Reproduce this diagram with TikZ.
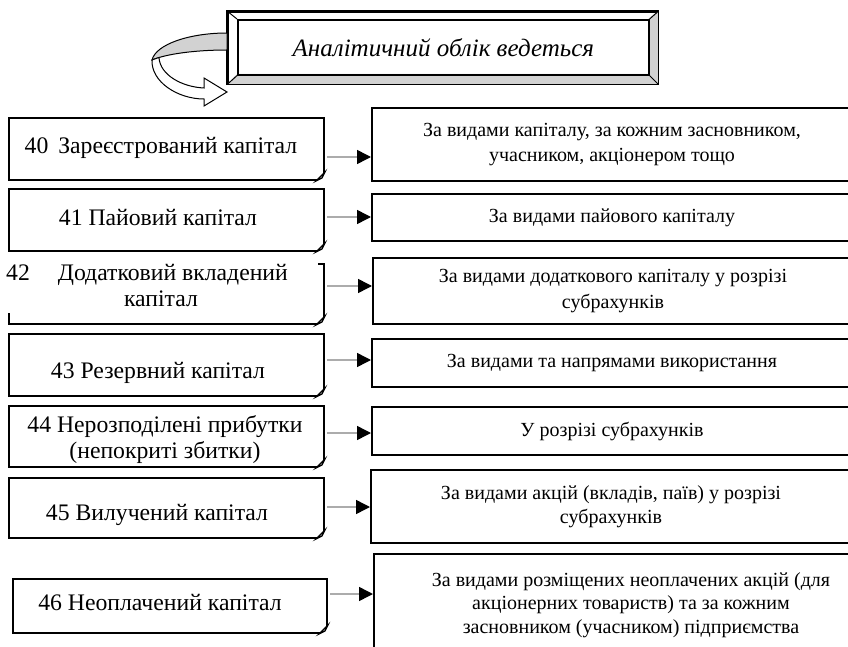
\documentclass[tikz,border=0pt]{standalone}
\usepackage{fontspec}
\setmainfont{Liberation Serif}
\usetikzlibrary{arrows.meta, positioning}

\begin{document}
\begin{tikzpicture}[
    x=1pt, y=-1pt,
    rahunok/.style={
        draw,
        line width=2pt,
        anchor=north west,
        minimum width=315pt,
        inner sep=0pt
    },
    napis/.style={
        font=\fontsize{23.7}{26}\selectfont,
        align=center,
        inner sep=2pt
    },
    oblik/.style={
        draw,
        line width=2pt,
        anchor=north west,
        minimum width=480pt,
        inner sep=3pt,
        align=center,
        font=\fontsize{20}{25.5}\selectfont
    },
    strilka/.style={
        draw=gray!65,
        line width=1.5pt,
        -{Triangle[length=14pt, width=14pt, black]}
    }
]
\useasboundingbox (0,0) rectangle (848,647);
\clip (0,0) rectangle (848,647);

% ---------------- BANNER ----------------
\node[draw, fill=white, line width=1.6pt, anchor=north west, minimum width=430pt, minimum height=72pt] (ramka) at (227,11) {};
\fill[gray!35] (ramka.north east) -- (ramka.south east) -- (ramka.south west) -- (237,74) -- (648,74) -- (648,19) -- cycle;
\node[draw, line width=1.6pt, anchor=north west, minimum width=411pt, minimum height=55pt,
      font=\fontsize{25}{30}\selectfont\itshape] (tema) at (237,19) {Аналітичний облік ведеться};
\draw[line width=1.6pt] (ramka.north west) rectangle (ramka.south east);
\draw[line width=1pt] (ramka.north west) -- (tema.north west)
                      (ramka.north east) -- (tema.north east)
                      (ramka.south west) -- (tema.south west)
                      (ramka.south east) -- (tema.south east);

% curled arrow
\filldraw[fill=gray!35, line width=1pt] (227,33) .. controls (190,33) and (156,44) .. (152,60)
    .. controls (166,54) and (195,50) .. (227,50) -- cycle;
\filldraw[fill=white, line width=1pt] (152,60) .. controls (151,82) and (178,99) .. (204,99)
    -- (204,106) -- (227,92) -- (204,78) -- (204,88)
    .. controls (182,87) and (160,75) .. (159,57.5) -- cycle;

% ---------------- ACCOUNTS ----------------
\node[rahunok, minimum height=62pt]                  (K40) at (8,117)  {};
\node[rahunok, minimum height=62pt]                  (K41) at (8,188)  {};
\node[rahunok, minimum height=60pt]                  (K42) at (8,263)  {};
\node[rahunok, minimum height=62pt]                  (K43) at (8,333)  {};
\node[rahunok, minimum height=61pt]                  (K44) at (8,405)  {};
\node[rahunok, minimum height=60pt]                  (K45) at (8,477)  {};
\node[rahunok, minimum height=54pt, minimum width=314pt] (K46) at (12,578) {};

\node[napis]                                         (n40) at (161,148) {40\, Зареєстрований капітал};
\node[napis]                                         (n41) at (158,218) {41 Пайовий капітал};
\node[napis, fill=white, minimum width=318pt, minimum height=55pt, inner sep=0pt]
                                                     (n42) at (159,285.5) {42\hspace{28pt}Додатковий вкладений\hspace*{24pt}\\\hspace*{4pt}капітал};
\node[napis]                                         (n43) at (158,373) {43 Резервний капітал};
\node[napis]                                         (n44) at (165,440) {44 Нерозподілені прибутки\\(непокриті збитки)};
\node[napis]                                         (n45) at (157,515) {45 Вилучений капітал};
\node[napis]                                         (n46) at (160,602) {46 Неоплачений капітал};

% folded corners
\foreach \n in {40,...,46} {
    \fill[white] ([xshift=-10pt,yshift=-1.2pt]K\n.south east) -- ([xshift=1.2pt,yshift=-1.2pt]K\n.south east) -- ([xshift=1.2pt,yshift=10pt]K\n.south east) -- cycle;
    \draw[line width=1.3pt, fill=gray!20] ([xshift=-9pt]K\n.south east) -- ([yshift=9pt]K\n.south east)
        -- ([xshift=-3pt,yshift=3pt]K\n.south east) -- cycle;
}

% ---------------- ANALYTICS ----------------
\node[oblik, minimum height=73pt]  (V40) at (371,107) {За видами капіталу, за кожним засновником,\\учасником, акціонером тощо};
\node[oblik, minimum height=47pt]  (V41) at (371,193) {За видами пайового капіталу};
\node[oblik, minimum height=66pt]  (V42) at (372,257) {За видами додаткового капіталу у розрізі\\субрахунків};
\node[oblik, minimum height=48pt]  (V43) at (371,338) {За видами та напрямами використання};
\node[oblik, minimum height=48pt]  (V44) at (371,406) {У розрізі субрахунків};
\node[oblik, minimum height=73pt,
      font=\fontsize{20}{24}\selectfont]  (V45) at (370,469) {За видами акцій (вкладів, паїв) у розрізі\\субрахунків};
\node[oblik, minimum height=102pt, minimum width=514pt,
      font=\fontsize{20}{23.5}\selectfont] (V46) at (373,553) {За видами розміщених неоплачених акцій (для\\акціонерних товариств) та за кожним\\засновником (учасником) підприємства};

% connectors
\foreach \n/\dy in {40/-8, 41/3, 42/8, 43/5, 44/3.5, 45/1, 46/12}
    \draw[strilka] ([xshift=2pt, yshift=\dy pt]K\n.east) -- ([yshift=\dy pt]K\n.east -| V\n.west);

\end{tikzpicture}
\end{document}
